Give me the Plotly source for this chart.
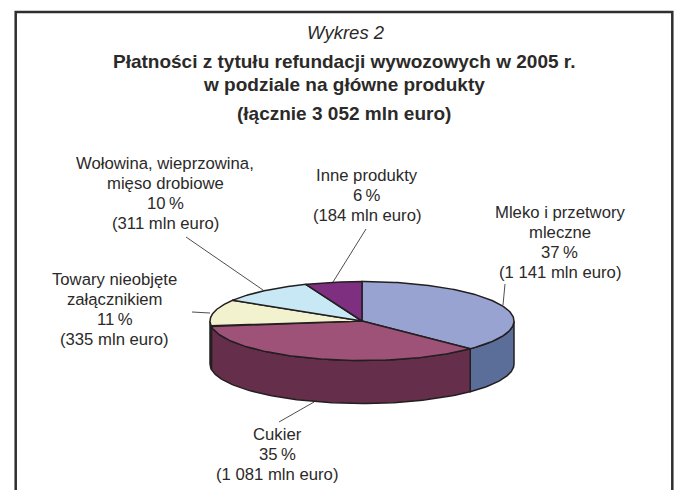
import numpy as np
import plotly.graph_objects as go

W, H = 678, 490
categories = ["Mleko i przetwory mleczne", "Cukier", "Towary nieobjęte załącznikiem",
              "Wołowina, wieprzowina, mięso drobiowe", "Inne produkty"]
values = [1141, 1081, 335, 311, 184]
percents = [37, 35, 11, 10, 6]
amount_labels = ["1 141", "1 081", "335", "311", "184"]
label_lines = [["Mleko i przetwory", "mleczne"], ["Cukier"], ["Towary nieobjęte", "załącznikiem"],
               ["Wołowina, wieprzowina,", "mięso drobiowe"], ["Inne produkty"]]
label_x = [559.5, 277, 114.5, 165, 367]
label_top = [212, 434, 279, 163, 175]
top_colors = ["#99A3D1", "#9E5278", "#F3F2CF", "#C7E8F4", "#7F2F7F"]
side_colors = ["#5B6E99", "#652F4B", "#B5B48F", "#8FB0BA", "#5A1F5A"]
leaders = [[(503, 305), (505, 284)], [(314, 402), (279, 422)], [(210, 313), (192, 312)],
           [(263, 290), (186, 237)], [(333, 282), (366, 229)]]

CX, CY, RX, RY, DEPTH = 362, 321, 152, 39.5, 43
INK = "#231F20"
TEXT = "#2B2A29"
FONT = "Liberation Sans, Arial, sans-serif"


def pt(deg, dy=0.0):
    a = np.radians(deg)
    return CX + RX * np.sin(a), CY - RY * np.cos(a) + dy


fig = go.Figure()
edges = np.cumsum([0] + values) / sum(values) * 360

for i in range(len(values)):
    lo, hi = max(edges[i], 90), min(edges[i + 1], 270)
    if lo >= hi:
        continue
    t = np.linspace(lo, hi, 100)
    x1, y1 = pt(t)
    x2, y2 = pt(t[::-1], DEPTH)
    fig.add_trace(go.Scatter(x=np.r_[x1, x2, x1[0]], y=np.r_[y1, y2, y1[0]], mode="lines",
                             fill="toself", fillcolor=side_colors[i],
                             line=dict(color=INK, width=1.5), hoverinfo="skip", showlegend=False))

for i in range(len(values)):
    t = np.linspace(edges[i], edges[i + 1], 120)
    x, y = pt(t)
    fig.add_trace(go.Scatter(x=np.r_[CX, x, CX], y=np.r_[CY, y, CY], mode="lines",
                             fill="toself", fillcolor=top_colors[i], name=categories[i],
                             line=dict(color=INK, width=1.5), showlegend=False))

for seg in leaders:
    fig.add_trace(go.Scatter(x=[p[0] for p in seg], y=[p[1] for p in seg], mode="lines",
                             line=dict(color=INK, width=0.8), hoverinfo="skip", showlegend=False))

annotations = [
    dict(x=345.5, y=32, text="<i>Wykres 2</i>", size=18.5),
    dict(x=344, y=61, text="<b>Płatności z tytułu refundacji wywozowych w 2005 r.</b>", size=19),
    dict(x=344, y=84, text="<b>w podziale na główne produkty</b>", size=19),
    dict(x=344, y=113, text="<b>(łącznie 3 052 mln euro)</b>", size=19),
]
for i in range(len(values)):
    lines = label_lines[i] + [f"{percents[i]}\u2009%", f"({amount_labels[i]} mln euro)"]
    for k, s in enumerate(lines):
        annotations.append(dict(x=label_x[i], y=label_top[i] + k * 20.3, text=s, size=16.7))

fig.update_layout(
    width=W, height=H, margin=dict(l=0, r=0, t=0, b=0),
    paper_bgcolor="white", plot_bgcolor="white",
    xaxis=dict(range=[0, W], visible=False, fixedrange=True),
    yaxis=dict(range=[H, 0], visible=False, fixedrange=True),
    shapes=[dict(type="rect", x0=15.7, y0=12, x1=672.3, y1=H + 5, line=dict(color="#2E2E2E", width=2.5))],
    annotations=[dict(x=a["x"], y=a["y"], text=a["text"], xref="x", yref="y", showarrow=False,
                      xanchor="center", yanchor="middle",
                      font=dict(family=FONT, size=a["size"], color=TEXT)) for a in annotations],
)
fig.write_html("out.html", config=dict(displayModeBar=False),
               post_script="document.body.style.margin='0';document.documentElement.style.overflow='hidden';")
